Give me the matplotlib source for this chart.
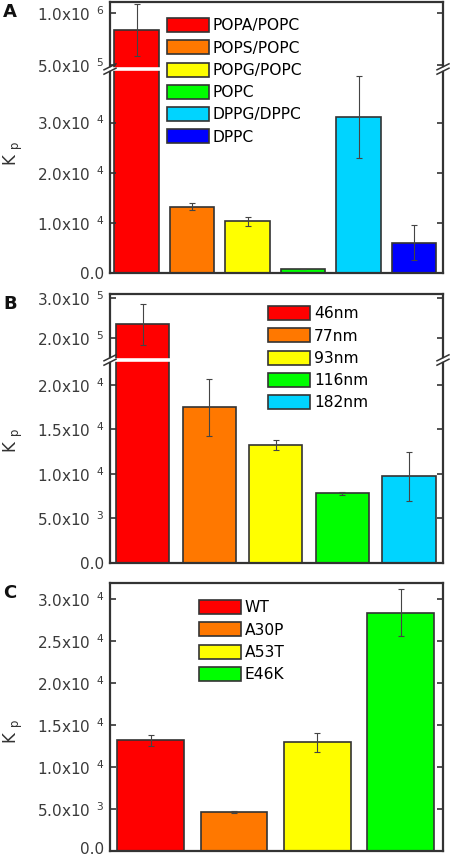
import matplotlib
matplotlib.use("Agg")
import matplotlib.pyplot as plt
import matplotlib.transforms as mtransforms
from matplotlib.patches import Patch
from matplotlib.lines import Line2D

plt.rcParams['font.family'] = ['DejaVu Sans']
plt.rcParams['mathtext.fontset'] = 'dejavusans'

# ---- data ----
# A: lipid composition
a_names = ['POPA/POPC', 'POPS/POPC', 'POPG/POPC', 'POPC', 'DPPG/DPPC', 'DPPC']
a_values = [8.4e5, 1.32e4, 1.03e4, 7.0e2, 3.11e4, 6.0e3]
a_errors = [2.5e5, 7.0e2, 9.0e2, 0.0, 8.2e3, 3.5e3]
a_colors = ['#ff0000', '#ff7800', '#ffff00', '#00ff00', '#00d4ff', '#0000ff']
a_up_ticks = [5.0e5, 1.0e6]
a_up_labels = [r'5.0x10$^{\ \ 5}$', r'1.0x10$^{\ \ 6}$']
a_lo_ticks = [0, 1.0e4, 2.0e4, 3.0e4]
a_lo_labels = ['0.0', r'1.0x10$^{\ \ 4}$', r'2.0x10$^{\ \ 4}$', r'3.0x10$^{\ \ 4}$']

# B: vesicle size
b_names = ['46nm', '77nm', '93nm', '116nm', '182nm']
b_values = [2.35e5, 1.75e4, 1.325e4, 7.8e3, 9.7e3]
b_errors = [5.2e4, 3.2e3, 6.0e2, 1.5e2, 2.8e3]
b_colors = ['#ff0000', '#ff7800', '#ffff00', '#00ff00', '#00d4ff']
b_up_ticks = [2.0e5, 3.0e5]
b_up_labels = [r'2.0x10$^{\ \ 5}$', r'3.0x10$^{\ \ 5}$']
b_lo_ticks = [0, 5.0e3, 1.0e4, 1.5e4, 2.0e4]
b_lo_labels = ['0.0', r'5.0x10$^{\ \ 3}$', r'1.0x10$^{\ \ 4}$', r'1.5x10$^{\ \ 4}$', r'2.0x10$^{\ \ 4}$']

# C: mutants
c_names = ['WT', 'A30P', 'A53T', 'E46K']
c_values = [1.32e4, 4.67e3, 1.296e4, 2.84e4]
c_errors = [6.5e2, 1.0e2, 1.1e3, 2.8e3]
c_colors = ['#ff0000', '#ff7800', '#ffff00', '#00ff00']
c_ticks = [0, 5.0e3, 1.0e4, 1.5e4, 2.0e4, 2.5e4, 3.0e4]
c_labels = ['0.0', r'5.0x10$^{\ \ 3}$', r'1.0x10$^{\ \ 4}$', r'1.5x10$^{\ \ 4}$',
            r'2.0x10$^{\ \ 4}$', r'2.5x10$^{\ \ 4}$', r'3.0x10$^{\ \ 4}$']

W, H = 450, 858
EDGE = '#333333'
fig = plt.figure(figsize=(W / 100, H / 100), dpi=100)

LEFT, RIGHT = 110, 443


def rect(top, bottom):
    return [LEFT / W, 1 - bottom / H, (RIGHT - LEFT) / W, (bottom - top) / H]


def style(ax, ticks, labels, ylim, xlim):
    ax.set_ylim(*ylim)
    ax.set_xlim(*xlim)
    ax.set_yticks(ticks)
    ax.set_yticklabels(labels)
    ax.set_xticks([])
    ax.tick_params(axis='y', direction='in', left=True, right=True, length=4,
                   width=1.2, labelsize=11, pad=4, color=EDGE, labelcolor='#3a3a3a')
    for s in ax.spines.values():
        s.set_linewidth(1.6)
        s.set_color(EDGE)


def bars(ax, values, errors, colors):
    x = range(len(values))
    ax.bar(x, values, width=0.8, color=colors, edgecolor=EDGE, linewidth=1.2)
    ax.errorbar(x, values, yerr=errors, fmt='none', ecolor='#444444',
                elinewidth=0.8, capsize=2.5, capthick=0.8)


def fline(xs, ys, **kw):
    fig.lines.append(Line2D([v / W for v in xs], [1 - v / H for v in ys],
                            transform=fig.transFigure, **kw))


def breakmark(yb):
    fline([LEFT - 6, RIGHT + 6], [yb, yb], color='white', lw=2.6, zorder=5)
    for xs in (LEFT, RIGHT):
        for d in (-2.2, 2.2):
            fline([xs - 6, xs + 6], [yb + 3 + d, yb - 3 + d], color=EDGE, lw=1.1, zorder=6)


def panel(top, brk, bottom, vals, errs, cols, names, up, lo, xlim, leg_xy, letter, kp_y):
    if brk is not None:
        au = fig.add_axes(rect(top, brk))
        al = fig.add_axes(rect(brk, bottom))
        bars(au, vals, errs, cols)
        bars(al, vals, errs, cols)
        style(au, up[0], up[1], up[2], xlim)
        style(al, lo[0], lo[1], lo[2], xlim)
        au.spines['bottom'].set_visible(False)
        al.spines['top'].set_visible(False)
        breakmark(brk)
    else:
        al = fig.add_axes(rect(top, bottom))
        bars(al, vals, errs, cols)
        style(al, lo[0], lo[1], lo[2], xlim)
    handles = [Patch(facecolor=c, edgecolor=EDGE, linewidth=1.2, label=n)
               for c, n in zip(cols, names)]
    fig.legend(handles=handles, loc='upper left',
               bbox_to_anchor=(leg_xy[0] / W, 1 - leg_xy[1] / H), frameon=False,
               fontsize=11.2, handlelength=2.7, handleheight=1.0,
               labelspacing=0.45, handletextpad=0.25, borderpad=0, borderaxespad=0)
    fig.text(3 / W, 1 - (top + 10) / H, letter, fontsize=13, fontweight='bold',
             va='center', ha='left', color='#111111')
    fig.text(13 / W, 1 - kp_y / H, r'K $_{\mathrm{p}}$', fontsize=12, rotation=90,
             va='center', ha='center', color='#333333')
    return al


ax_a = panel(2, 69, 273, a_values, a_errors, a_colors, a_names,
             (a_up_ticks, a_up_labels, (4.615e5, 1.106e6)),
             (a_lo_ticks, a_lo_labels, (0, 4.07e4)),
             (-0.48, 5.52), (167, 18), 'A', 153)

ax_b = panel(294, 360, 562.7, b_values, b_errors, b_colors, b_names,
             (b_up_ticks, b_up_labels, (1.46e5, 3.11e5)),
             (b_lo_ticks, b_lo_labels, (0, 2.28e4)),
             (-0.49, 4.51), (268, 306), 'B', 440)

ax_c = panel(583.3, None, 851.3, c_values, c_errors, c_colors, c_names,
             None, (c_ticks, c_labels, (0, 3.19e4)),
             (-0.49, 3.51), (199, 600), 'C', 731)

# nudge the bottom "0.0" of panel C up a little so it stays inside the canvas
lbl = ax_c.yaxis.get_majorticklabels()[0]
lbl.set_transform(lbl.get_transform() +
                  mtransforms.ScaledTranslation(0, 3 / 100, fig.dpi_scale_trans))

fig.savefig('out.png', dpi=100)
